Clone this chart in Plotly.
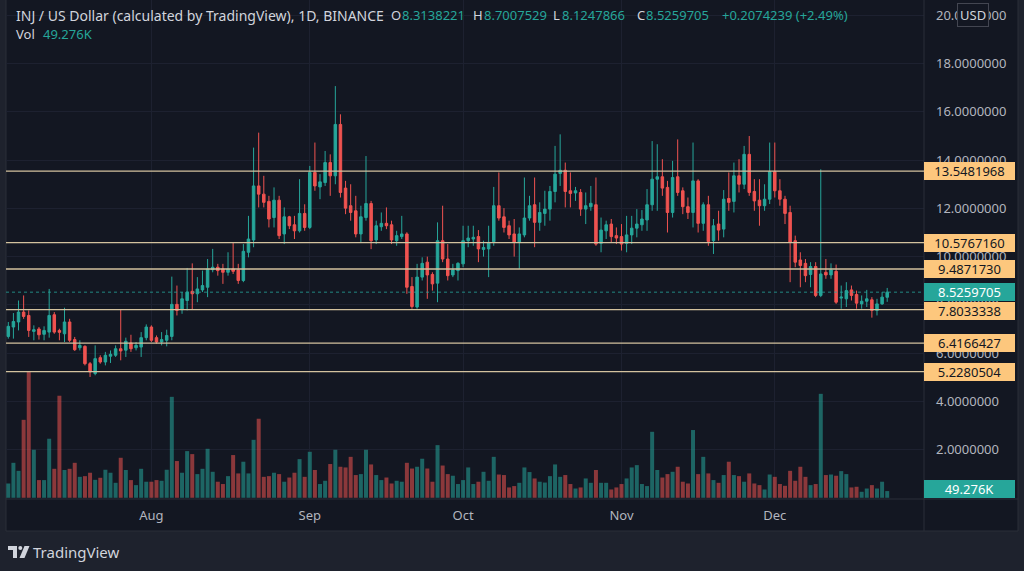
import plotly.graph_objects as go
import pandas as pd

# ---------------- data ----------------
start_date = "2021-07-04"

opens = [6.69, 7.08, 7.29, 7.70, 7.56, 6.90, 7.00, 6.78, 6.87, 7.59,
         6.94, 6.80, 7.29, 6.56, 6.22, 6.28, 5.56, 5.15, 5.81, 5.63,
         5.87, 5.91, 6.18, 6.12, 6.42, 6.22, 6.25, 6.64, 7.08, 6.64,
         6.46, 6.53, 6.69, 8.02, 7.80, 8.18, 8.56, 8.46, 8.62, 8.73,
         9.46, 9.56, 9.49, 9.35, 9.49, 9.45, 9.01, 10.18, 10.69, 12.93,
         12.59, 12.29, 11.62, 12.34, 10.94, 11.65, 11.32, 11.07, 11.79, 11.21,
         13.49, 12.89, 13.07, 13.90, 13.35, 15.48, 12.84, 12.11, 11.90, 10.94,
         11.62, 12.20, 10.69, 11.24, 11.38, 11.32, 10.66, 10.83, 10.94, 8.76,
         7.91, 9.15, 9.77, 9.26, 8.90, 10.66, 9.90, 9.24, 9.42, 9.70,
         10.66, 10.73, 10.83, 10.30, 10.32, 10.62, 12.11, 11.65, 11.28, 10.94,
         10.59, 10.90, 11.60, 12.15, 11.42, 11.79, 11.97, 12.70, 13.45, 13.58,
         12.73, 12.64, 12.66, 11.97, 12.07, 12.15, 10.55, 11.07, 11.35, 10.87,
         10.83, 10.55, 10.90, 11.18, 11.32, 11.52, 12.15, 13.21, 13.31, 12.87,
         11.83, 13.31, 12.73, 12.07, 11.83, 13.14, 11.38, 12.15, 10.66, 11.35,
         11.14, 12.41, 12.29, 13.35, 13.00, 14.24, 12.70, 12.34, 12.11, 12.38,
         13.52, 12.73, 12.38, 11.83, 10.66, 9.86, 9.72, 9.26, 9.59, 8.39,
         9.35, 9.24, 9.39, 8.28, 8.25, 8.62, 8.43, 8.04, 8.15, 8.21,
         7.77, 8.04, 8.3138221]

highs = [7.29, 7.66, 8.18, 8.39, 7.77, 7.15, 7.08, 7.11, 8.66, 7.70,
         7.01, 7.88, 7.42, 6.67, 6.53, 6.32, 5.63, 6.32, 5.91, 6.05,
         6.11, 6.32, 7.80, 6.64, 6.76, 6.46, 6.87, 7.19, 7.15, 6.73,
         6.87, 6.97, 9.17, 8.80, 8.53, 9.53, 9.72, 9.15, 9.42, 9.90,
         10.32, 9.70, 9.70, 10.18, 10.59, 9.70, 10.52, 11.69, 14.52, 15.14,
         13.35, 12.52, 12.87, 12.52, 12.04, 11.69, 11.69, 13.21, 12.17, 13.76,
         14.73, 13.42, 14.38, 14.24, 17.07, 15.90, 13.14, 13.00, 12.52, 12.11,
         14.17, 12.31, 11.49, 11.83, 12.04, 11.49, 11.07, 11.69, 11.01, 9.15,
         9.70, 9.97, 10.00, 9.35, 11.42, 12.11, 10.52, 9.70, 9.77, 11.28,
         11.28, 11.28, 11.10, 10.66, 11.28, 12.89, 13.49, 12.01, 11.49, 11.56,
         11.21, 13.28, 12.52, 13.28, 12.25, 12.73, 12.93, 14.59, 15.07, 13.90,
         13.49, 12.89, 12.80, 12.66, 12.93, 13.28, 11.62, 11.49, 11.56, 11.21,
         11.35, 11.69, 11.69, 11.97, 11.93, 12.80, 14.79, 14.66, 14.04, 13.14,
         13.97, 14.86, 12.87, 12.45, 14.73, 13.21, 12.25, 12.52, 11.56, 11.90,
         12.76, 13.49, 13.90, 14.04, 14.59, 15.00, 13.21, 13.21, 13.00, 14.73,
         14.73, 13.21, 12.52, 12.11, 10.87, 10.18, 9.90, 9.77, 9.77, 13.62,
         9.90, 9.72, 9.67, 8.80, 8.94, 8.80, 8.59, 8.39, 8.62, 8.32,
         8.25, 8.53, 8.7007529]

lows = [6.60, 6.60, 6.94, 7.42, 6.67, 6.53, 6.56, 6.53, 6.64, 6.80,
        6.53, 6.46, 6.46, 6.09, 6.11, 5.49, 5.01, 5.08, 5.56, 5.49,
        5.59, 5.84, 5.70, 5.84, 6.05, 6.11, 5.84, 6.53, 6.46, 6.39,
        6.32, 6.28, 6.53, 7.56, 7.63, 7.77, 7.80, 8.11, 8.53, 8.32,
        9.35, 9.21, 8.87, 9.21, 9.28, 8.87, 8.94, 9.97, 10.39, 12.04,
        12.04, 11.21, 11.21, 10.73, 10.52, 11.14, 10.73, 11.00, 11.07, 11.14,
        12.73, 12.38, 12.93, 12.52, 13.00, 12.45, 11.76, 11.49, 10.80, 10.59,
        11.49, 10.31, 10.52, 11.07, 11.14, 10.52, 10.45, 10.73, 8.46, 7.84,
        7.84, 9.01, 8.25, 8.59, 8.11, 9.77, 9.01, 9.15, 9.01, 9.56,
        10.39, 10.45, 9.77, 10.00, 9.15, 10.45, 11.49, 11.00, 10.73, 10.00,
        9.49, 10.80, 11.49, 10.39, 11.07, 11.28, 11.49, 12.25, 12.93, 12.04,
        12.04, 12.31, 11.69, 11.35, 11.90, 10.45, 10.18, 10.73, 10.59, 10.52,
        10.25, 10.18, 10.52, 10.80, 11.07, 11.07, 11.90, 11.90, 12.52, 11.00,
        11.62, 12.52, 11.76, 11.56, 11.21, 11.00, 11.07, 10.45, 10.11, 10.66,
        10.80, 11.90, 11.83, 12.66, 12.80, 12.52, 11.90, 11.28, 11.90, 12.18,
        12.45, 12.11, 11.35, 8.94, 9.56, 8.73, 8.94, 8.73, 8.32, 8.32,
        9.08, 9.08, 8.04, 7.84, 7.91, 8.18, 7.84, 7.84, 7.91, 7.47,
        7.56, 8.00, 8.1247866]

closes = [7.11, 7.31, 7.70, 7.52, 6.94, 6.97, 6.76, 6.94, 7.56, 6.87,
          6.86, 7.29, 6.53, 6.14, 6.32, 5.56, 5.22, 5.77, 5.63, 5.91,
          5.95, 6.18, 6.09, 6.49, 6.18, 6.32, 6.64, 7.08, 6.53, 6.46,
          6.56, 6.73, 8.02, 7.77, 8.25, 8.53, 8.46, 8.66, 8.80, 9.49,
          9.56, 9.42, 9.35, 9.49, 9.39, 9.01, 10.22, 10.73, 12.93, 12.59,
          12.25, 11.56, 12.34, 10.87, 11.65, 11.28, 11.07, 11.79, 11.21, 13.49,
          12.93, 13.10, 13.90, 13.35, 15.48, 12.66, 12.01, 11.83, 10.94, 11.65,
          12.20, 10.66, 11.28, 11.38, 11.28, 10.69, 10.87, 10.94, 8.73, 7.93,
          9.15, 9.72, 9.24, 8.87, 10.66, 9.90, 9.21, 9.45, 9.72, 10.66,
          10.77, 10.80, 10.32, 10.38, 10.59, 12.11, 11.60, 11.21, 10.90, 10.59,
          10.94, 11.60, 12.11, 11.42, 11.83, 11.97, 12.70, 13.42, 13.58, 12.70,
          12.62, 12.73, 11.97, 12.11, 12.21, 10.52, 11.10, 11.32, 10.83, 10.77,
          10.52, 10.90, 11.18, 11.35, 11.56, 12.15, 13.21, 13.31, 12.84, 11.83,
          13.28, 12.66, 12.07, 11.83, 13.14, 11.38, 12.15, 10.63, 11.28, 11.10,
          12.38, 12.25, 13.35, 13.00, 14.24, 12.66, 12.31, 12.11, 12.38, 13.52,
          12.73, 12.38, 11.79, 10.59, 9.77, 9.63, 9.21, 9.59, 8.39, 9.28,
          9.24, 9.45, 8.11, 8.32, 8.59, 8.39, 8.07, 8.15, 8.25, 7.77,
          8.04, 8.32, 8.5259705]

# volume in thousands
volumes_k = [105, 257, 198, 573, 926, 353, 130, 130, 434, 213,
             750, 204, 213, 257, 154, 159, 184, 132, 147, 206,
             184, 110, 294, 204, 130, 93, 213, 118, 118, 130,
             125, 206, 742, 270, 184, 343, 321, 174, 213, 360,
             191, 118, 101, 159, 314, 179, 265, 179, 426, 581,
             154, 159, 184, 174, 118, 149, 184, 284, 154, 338,
             204, 101, 125, 248, 353, 228, 223, 301, 167, 174,
             353, 245, 167, 130, 149, 105, 125, 118, 257, 215,
             228, 287, 215, 118, 387, 237, 174, 162, 101, 130,
             223, 101, 118, 191, 125, 301, 171, 167, 76, 86,
             110, 223, 189, 142, 118, 112, 159, 245, 154, 167,
             101, 68, 76, 142, 110, 204, 110, 110, 61, 76,
             101, 142, 223, 240, 101, 86, 485, 204, 149, 174,
             191, 228, 118, 105, 498, 174, 301, 179, 130, 110,
             167, 265, 167, 159, 118, 179, 105, 93, 61, 171,
             154, 101, 88, 198, 125, 228, 154, 93, 101, 764,
             167, 171, 162, 196, 174, 76, 81, 44, 68, 93,
             68, 118, 49.276]

level_values = [13.5481968, 10.5767160, 9.4871730, 7.8033338, 6.4166427, 5.2280504]
level_labels = ["13.5481968", "10.5767160", "9.4871730", "7.8033338", "6.4166427", "5.2280504"]

price_ticks = [2, 4, 6, 8, 10, 12, 14, 16, 18, 20]
price_tick_labels = ["2.0000000", "4.0000000", "6.0000000", "8.0000000", "10.0000000",
                     "12.0000000", "14.0000000", "16.0000000", "18.0000000", "20.0000000"]
month_ticks = ["2021-08-01", "2021-09-01", "2021-10-01", "2021-11-01", "2021-12-01"]
month_labels = ["Aug", "Sep", "Oct", "Nov", "Dec"]

symbol_title = "INJ / US Dollar (calculated by TradingView), 1D, BINANCE"
last_open, last_high, last_low, last_close = 8.3138221, 8.7007529, 8.1247866, 8.5259705
change_text = "+0.2074239 (+2.49%)"
last_volume_text = "49.276K"

# ---------------- style ----------------
UP = "#26a69a"
DOWN = "#ef5350"
UP_VOL = "rgba(38,166,154,0.55)"
DOWN_VOL = "rgba(239,83,80,0.55)"
BG = "#131722"
OUTER = "#1e222d"
TEXT = "#d1d4dc"
AXIS_TEXT = "#b2b5be"
GRID = "#1d2130"
LEVEL_LINE = "#d3c29e"
LEVEL_BOX = "#fdc77d"
FONT = "Noto Sans"

W, H = 1024, 571
ML, MR, MT, MB = 6, 100, 0, 72
PW = W - ML - MR
PH = H - MT - MB


def px_x(px):
    return (px - ML) / PW


def px_y(py):
    return (MT + PH - py) / PH


dates = pd.date_range(start_date, periods=len(closes), freq="D")
vol_colors = [UP_VOL if c >= o else DOWN_VOL for o, c in zip(opens, closes)]

fig = go.Figure()

fig.add_trace(go.Bar(
    x=dates, y=volumes_k, marker=dict(color=vol_colors, line=dict(width=0)),
    width=0.78 * 86400000, yaxis="y", hoverinfo="skip", showlegend=False,
))

fig.add_trace(go.Candlestick(
    x=dates, open=opens, high=highs, low=lows, close=closes,
    increasing=dict(line=dict(color=UP, width=1), fillcolor=UP),
    decreasing=dict(line=dict(color=DOWN, width=1), fillcolor=DOWN),
    whiskerwidth=0, yaxis="y2", showlegend=False,
))

x_start = pd.Timestamp(start_date) - pd.Timedelta(hours=10.8)
x_end = pd.Timestamp(start_date) + pd.Timedelta(days=179.2)

fig.update_layout(
    width=W, height=H, autosize=False,
    margin=dict(l=ML, r=MR, t=MT, b=MB, pad=0),
    paper_bgcolor=OUTER, plot_bgcolor=BG,
    font=dict(family=FONT, color=AXIS_TEXT, size=13),
    boxgap=0.3,
    xaxis=dict(
        type="date", range=[x_start, x_end], rangeslider=dict(visible=False),
        tickvals=month_ticks, ticktext=month_labels, showgrid=True, gridcolor=GRID,
        gridwidth=1, zeroline=False, showline=False, ticks="",
        tickfont=dict(family=FONT, size=13, color=AXIS_TEXT), ticklabelstandoff=7,
    ),
    yaxis=dict(
        range=[-9, 3659], visible=False, showgrid=False, zeroline=False, fixedrange=True,
    ),
    yaxis2=dict(
        overlaying="y", side="right", range=[-0.05, 20.64],
        tickvals=price_ticks, ticktext=price_tick_labels, showgrid=True, gridcolor=GRID,
        zeroline=False, showline=False, ticks="",
        tickfont=dict(family=FONT, size=13, color=AXIS_TEXT), ticklabelstandoff=11,
    ),
    showlegend=False,
)

shapes = []
# dark panel
shapes.append(dict(type="rect", xref="paper", yref="paper", x0=px_x(6), x1=px_x(1018),
                   y0=px_y(531), y1=px_y(-2), fillcolor=BG, line=dict(color="#2a2e39", width=1),
                   layer="below"))
# price scale border
shapes.append(dict(type="line", xref="paper", yref="paper", x0=1, x1=1, y0=px_y(531), y1=px_y(0),
                   line=dict(color="#2a2e39", width=1)))
# time scale border
shapes.append(dict(type="line", xref="paper", yref="paper", x0=0, x1=px_x(1018), y0=0, y1=0,
                   line=dict(color="#2a2e39", width=1)))
# current price dotted line
shapes.append(dict(type="line", xref="paper", yref="y2", x0=0, x1=1, y0=last_close, y1=last_close,
                   line=dict(color="rgba(38,166,154,0.8)", width=1, dash="dot")))
# horizontal levels
for lv in level_values:
    shapes.append(dict(type="line", xref="paper", yref="y2", x0=0, x1=1, y0=lv, y1=lv,
                       line=dict(color=LEVEL_LINE, width=1.3)))

# TradingView logo glyph in footer
def path_px(points):
    s = "M " + " L ".join(f"{px_x(a):.5f},{px_y(b):.5f}" for a, b in points) + " Z"
    return s

shapes.append(dict(type="path", xref="paper", yref="paper",
                   path=path_px([(8, 546), (17, 546), (17, 558), (13, 558), (13, 550), (8, 550)]),
                   fillcolor=TEXT, line=dict(width=0)))
shapes.append(dict(type="circle", xref="paper", yref="paper",
                   x0=px_x(18.3), x1=px_x(22.3), y0=px_y(550), y1=px_y(546),
                   fillcolor=TEXT, line=dict(width=0)))
shapes.append(dict(type="path", xref="paper", yref="paper",
                   path=path_px([(24.5, 546), (29.5, 546), (24.5, 558), (19.5, 558)]),
                   fillcolor=TEXT, line=dict(width=0)))

fig.update_layout(shapes=shapes)

ann = []


def text_at(px, py, text, color=TEXT, size=13, anchor="left"):
    ann.append(dict(xref="paper", yref="paper", x=px_x(px), y=px_y(py), text=text,
                    showarrow=False, xanchor=anchor, yanchor="middle",
                    font=dict(family=FONT, size=size, color=color), borderpad=0))


# header
text_at(15, 15, symbol_title, size=14)
text_at(390, 15, "O")
text_at(401, 15, f"{last_open:.7f}", UP)
text_at(472, 15, "H")
text_at(483, 15, f"{last_high:.7f}", UP)
text_at(552, 15, "L")
text_at(561, 15, f"{last_low:.7f}", UP)
text_at(636, 15, "C")
text_at(645, 15, f"{last_close:.7f}", UP)
text_at(721, 15, change_text, UP)
text_at(15, 34, "Vol")
text_at(42, 34, last_volume_text, UP)

# footer
text_at(32, 552, "TradingView", TEXT, size=15)

# USD box
ann.append(dict(xref="paper", yref="paper", x=px_x(973), y=px_y(15), text="USD", showarrow=False,
                xanchor="center", yanchor="middle", font=dict(family=FONT, size=13, color=TEXT),
                bgcolor=BG, bordercolor="#434651", borderwidth=1, borderpad=2))


def price_box(yval, text, bg, fg, yref="y2"):
    ann.append(dict(xref="paper", yref=yref, x=1.0, y=yval, text=text, showarrow=False,
                    xanchor="left", yanchor="middle", width=89, height=16, align="center",
                    font=dict(family=FONT, size=13, color=fg), bgcolor=bg,
                    borderpad=1, borderwidth=0))


box_units = 0.8
for lv, lab in zip(level_values, level_labels):
    y_show = lv
    if abs(lv - last_close) < box_units:
        y_show = last_close - box_units if lv < last_close else last_close + box_units
    price_box(y_show, lab, LEVEL_BOX, "#131722")

price_box(last_close, f"{last_close:.7f}", UP, "#ffffff")
price_box(px_y(489), last_volume_text, UP, "#ffffff", yref="paper")

fig.update_layout(annotations=ann)

fig.write_html("out.html", config=dict(displayModeBar=False))
